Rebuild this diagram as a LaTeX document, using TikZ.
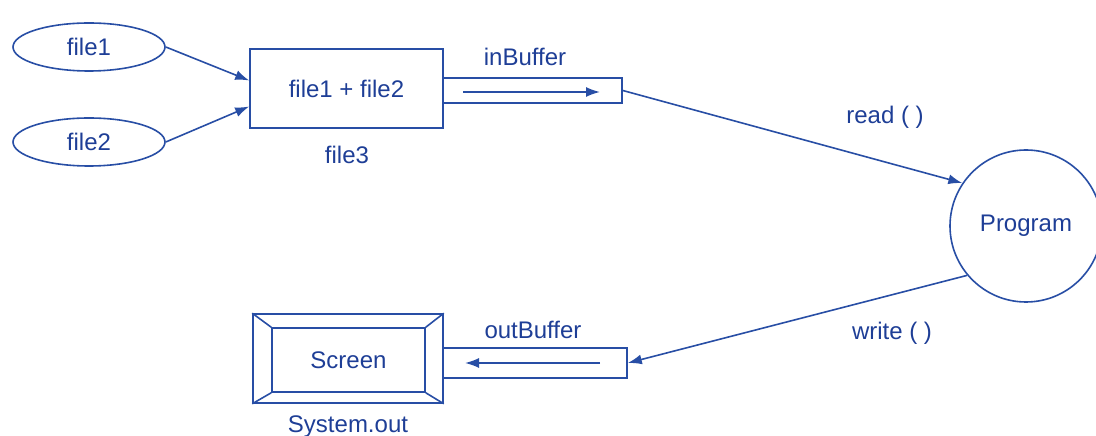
\documentclass[tikz,border=0pt]{standalone}
\usepackage{fontspec}
\setmainfont{Liberation Sans}
\usepackage{xcolor}
\usetikzlibrary{shapes.geometric, arrows.meta, positioning, calc}

\definecolor{ink}{RGB}{40,78,165}
\definecolor{txt}{RGB}{30,62,150}

\begin{document}
\begin{tikzpicture}[
  x=1pt, y=1pt,
  every node/.style={text=txt, font=\fontsize{24}{28}\selectfont},
  src/.style={ellipse, draw=ink, line width=1.6pt, minimum width=152pt,
              minimum height=48pt, inner sep=0pt},
  box/.style={rectangle, draw=ink, line width=1.6pt, inner sep=0pt},
  buf/.style={rectangle, draw=ink, line width=1.6pt, inner sep=0pt},
  prog/.style={circle, draw=ink, line width=1.6pt, minimum size=152pt, inner sep=0pt},
  arrow/.style={-{Latex[length=14pt, width=10pt]}, draw=ink, line width=1.6pt},
  lbl/.style={inner sep=1pt}
]
\useasboundingbox (0,0) rectangle (1096,436);

% Input files
\node[src] (file1) at (89,389) {file1};
\node[src] (file2) at (89,294) {file2};

% Concatenated file and its buffer
\node[box, minimum width=193pt, minimum height=79pt] (merged) at (346.5,347.5) {file1 + file2};
\node[lbl] (file3) at (347,281) {file3};
\node[buf, minimum width=179pt, minimum height=25pt] (inbuf) at (532.5,345.5) {};
\node[lbl] (inlbl) at (525,379) {inBuffer};
\coordinate (inA) at (463,344);
\coordinate (inB) at (600,344);

% Program
\node[prog] (program) at (1026,210) {Program};

% Screen and its buffer
\node[box, minimum width=190pt, minimum height=89pt] (screen) at (348,77.5) {};
\node[box, minimum width=153pt, minimum height=64pt] (screenin) at (348.5,76) {Screen};
\node[lbl] (sysout) at (348,9) {System.out};
\node[buf, minimum width=184pt, minimum height=30pt] (outbuf) at (535,73) {};
\node[lbl] (outlbl) at (533,106) {outBuffer};
\coordinate (outA) at (600,73);
\coordinate (outB) at (465,73);

% Screen bevel
\draw[ink, line width=1.6pt] (screen.north west) -- (screenin.north west)
  (screen.north east) -- (screenin.north east)
  (screen.south west) -- (screenin.south west)
  (screen.south east) -- (screenin.south east);

% Data flow
\draw[arrow] (file1.east) -- ($(merged.west)+(0,8)$);
\draw[arrow] (file2.east) -- ($(merged.west)+(0,-18)$);
\draw[arrow] (inA) -- (inB);
\draw[arrow] (inbuf.east) -- (program.146);
\node[lbl] (readlbl) at (885,319) {read ( )};
\draw[arrow] (program.220) -- (outbuf.east);
\node[lbl] (writelbl) at (892,103) {write ( )};
\draw[arrow] (outA) -- (outB);

\end{tikzpicture}
\end{document}
